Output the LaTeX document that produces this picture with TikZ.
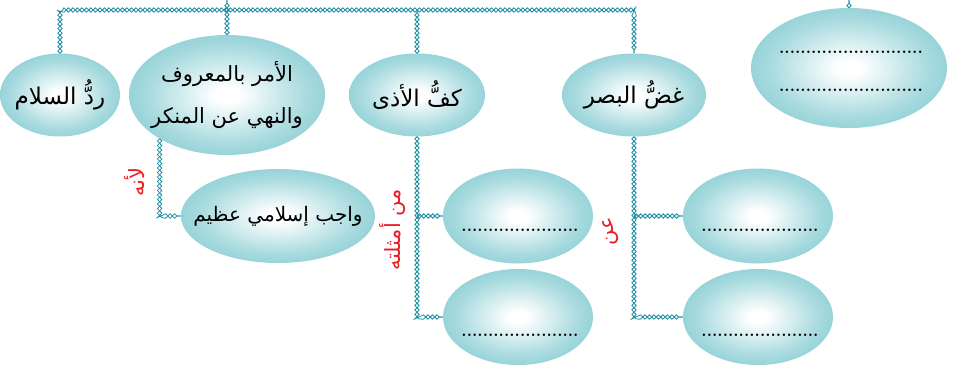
\documentclass[tikz,border=0pt]{standalone}
\usepackage{fontspec}
\newfontfamily\arabicfont[Script=Arabic]{DejaVu Sans}
\TeXXeTstate=1
\usetikzlibrary{shapes.geometric,decorations.pathmorphing}
\definecolor{bubbleteal}{RGB}{90,186,194}
\definecolor{linkteal}{RGB}{24,140,160}
\definecolor{notered}{RGB}{236,28,36}
\pgfdeclareradialshading{bubble}{\pgfpoint{0bp}{0bp}}{color(0bp)=(white); color(3bp)=(white); color(20bp)=(bubbleteal!52!white); color(42bp)=(bubbleteal); color(72bp)=(bubbleteal)}
\begin{document}
\begin{tikzpicture}[x=1pt,y=-1pt]
\useasboundingbox (0,0) rectangle (966,364);
\tikzstyle{every node}=[font=\arabicfont\fontsize{23}{44}\selectfont];
\tikzstyle{oval}=[shape=ellipse,shading=bubble,inner xsep=-34pt,inner ysep=-20pt,align=center];
\tikzstyle{fill in}=[font=\normalfont\bfseries\fontsize{17}{20}\selectfont,inner sep=0pt];
\tikzstyle{note}=[text=notered,rotate=90,inner sep=0pt,font=\arabicfont\fontsize{21}{24}\selectfont];
\tikzstyle{chainlink}=[preaction={draw=linkteal,line width=0.8pt,decorate,decoration={zigzag,amplitude=2.2pt,segment length=9pt}},
  postaction={draw=linkteal,line width=0.8pt,decorate,decoration={zigzag,mirror,amplitude=2.2pt,segment length=9pt}}];
% top row
\node[oval,minimum width=120pt,minimum height=83pt] (salam) at (60,95) {\beginR ردُّ السلام\endR};
\node[oval,minimum width=196pt,minimum height=120pt,font=\arabicfont\fontsize{21}{42}\selectfont] (amr) at (227,95) {\beginR الأمر بالمعروف\endR\\\beginR والنهي عن المنكر\endR};
\node[oval,minimum width=136pt,minimum height=83pt] (adha) at (417,95) {\beginR كفُّ الأذى\endR};
\node[oval,minimum width=144pt,minimum height=83pt] (basar) at (634,95) {\beginR غضُّ البصر\endR};
\node[oval,minimum width=196pt,minimum height=120pt] (blank) at (849,68) {};
% second and third rows
\node[oval,minimum width=194pt,minimum height=94pt,font=\arabicfont\fontsize{20}{30}\selectfont] (wajib) at (278,216) {\beginR واجب إسلامي عظيم\endR};
\node[oval,minimum width=150pt,minimum height=95pt] (adhaA) at (518,216) {};
\node[oval,minimum width=150pt,minimum height=96pt] (adhaB) at (518,317) {};
\node[oval,minimum width=150pt,minimum height=95pt] (basarA) at (758,216) {};
\node[oval,minimum width=150pt,minimum height=96pt] (basarB) at (758,317) {};
% dotted lines to fill in
\node[fill in] (blank1) at (851,52) {...........................};
\node[fill in] (blank2) at (851,90) {...........................};
\node[fill in] (adhaA1) at (520,230) {......................};
\node[fill in] (adhaB1) at (520,335) {......................};
\node[fill in] (basarA1) at (760,230) {......................};
\node[fill in] (basarB1) at (760,335) {......................};
% red notes
\node[note] (lianna) at (135,182) {\beginR لأنه\endR};
\node[note] (amthila) at (393,230) {\beginR من أمثلته\endR};
\node[note] (an) at (611,231) {\beginR عن\endR};
% links
\coordinate (edge) at (0,0);
\coordinate (bus) at (0,10);
\path[chainlink] (salam.north) -- (salam.north |- bus) -- (basar.north |- bus) -- (basar.north);
\path[chainlink] (amr.north) -- (amr.north |- edge);
\path[chainlink] (adha.north) -- (adha.north |- bus);
\path[chainlink] (blank.north) -- (blank.north |- edge);
\path[chainlink] (amr.213) |- (wajib.west);
\path[chainlink] (adha.south) |- (adhaB.west);
\path[chainlink] (adha.south |- adhaA.west) -- (adhaA.west);
\path[chainlink] (basar.south) |- (basarB.west);
\path[chainlink] (basar.south |- basarA.west) -- (basarA.west);
\end{tikzpicture}
\end{document}
